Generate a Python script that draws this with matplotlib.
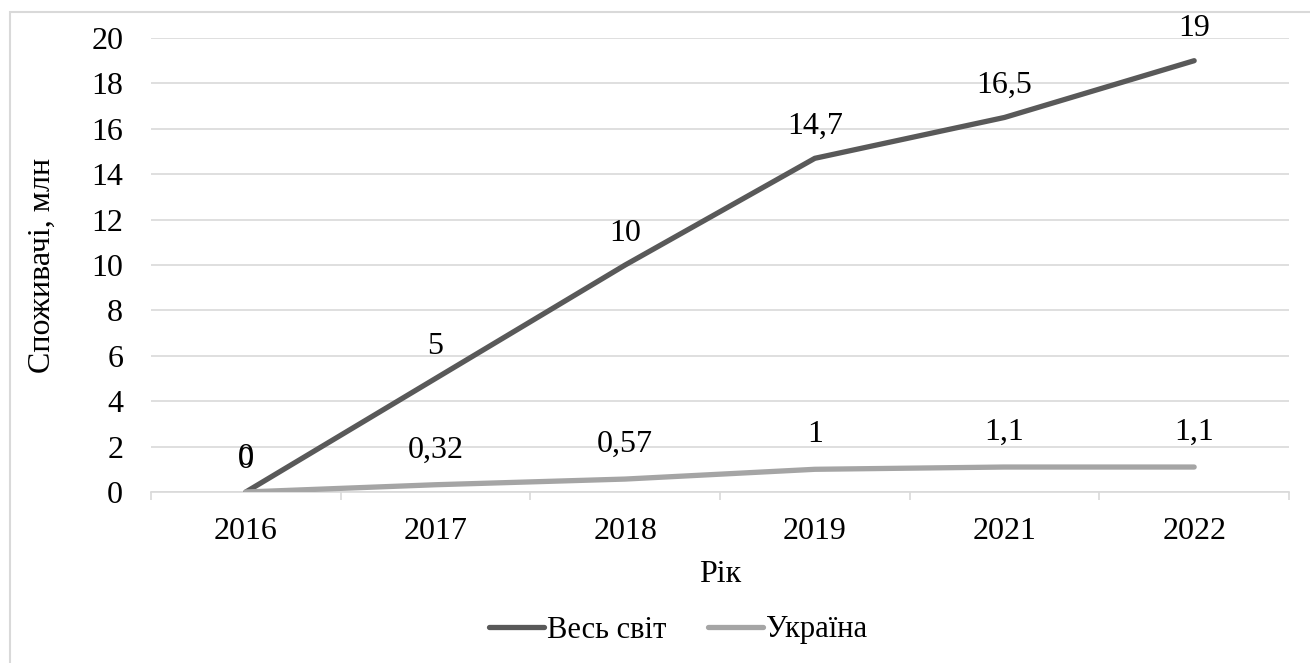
import matplotlib
matplotlib.use("Agg")
import matplotlib.pyplot as plt
from matplotlib import font_manager as fm
from matplotlib.patches import Rectangle
import numpy as np

SERIF_PATH = fm.findfont(fm.FontProperties(family=["Liberation Serif", "DejaVu Serif"]))
plt.rcParams["font.family"] = ["Liberation Serif", "DejaVu Serif"]


def serif(size):
    return fm.FontProperties(fname=SERIF_PATH, size=size)


years = ["2016", "2017", "2018", "2019", "2021", "2022"]
world = [0, 5, 10, 14.7, 16.5, 19]
ukraine = [0, 0.32, 0.57, 1, 1.1, 1.1]
world_labels = ["0", "5", "10", "14,7", "16,5", "19"]
ukraine_labels = ["0", "0,32", "0,57", "1", "1,1", "1,1"]

W, H = 1310, 663
fig = plt.figure(figsize=(W / 100, H / 100), dpi=100)
ax = fig.add_axes([151 / W, 1 - 492 / H, (1289 - 151) / W, (492 - 38) / H])

# outer chart border (only top/left visible in original)
fig.patches.append(Rectangle((10 / W, -0.05), 1.1, 1 - 12 / H + 0.05, transform=fig.transFigure,
                             fill=False, edgecolor="#D9D9D9", linewidth=1.5))

x = np.arange(len(years))
ax.plot(x, world, color="#595959", linewidth=3.8, solid_capstyle="round", label="Весь світ", zorder=3)
ax.plot(x, ukraine, color="#A5A5A5", linewidth=3.8, solid_capstyle="round", label="Україна", zorder=3)

for xi, v, t in zip(x, world, world_labels):
    ax.annotate(t, (xi, v), xytext=(0, 23), textcoords="offset points", ha="center", va="center",
                fontproperties=serif(23))
for xi, v, t in zip(x, ukraine, ukraine_labels):
    ax.annotate(t, (xi, v), xytext=(0, 25), textcoords="offset points", ha="center", va="center",
                fontproperties=serif(23))

ax.set_xlim(-0.5, len(years) - 0.5)
ax.set_ylim(0, 20)
ax.set_yticks(np.arange(0, 21, 2))
ax.set_xticks(x)
ax.set_xticklabels(years)
ax.set_yticklabels([str(v) for v in range(0, 21, 2)])
ax.set_xticks(np.arange(-0.5, len(years), 1), minor=True)
for label in ax.get_xticklabels() + ax.get_yticklabels():
    label.set_fontproperties(serif(23))

ax.grid(axis="y", color="#D9D9D9", linewidth=1.2)
ax.set_axisbelow(True)
for side in ["top", "right", "left"]:
    ax.spines[side].set_visible(False)
ax.spines["bottom"].set_color("#D9D9D9")
ax.spines["bottom"].set_linewidth(1.2)

ax.tick_params(axis="x", which="major", length=0, pad=18)
ax.tick_params(axis="x", which="minor", length=6, color="#D9D9D9", width=1.2)
ax.tick_params(axis="y", length=0, pad=20)

fig.text(42 / W, 1 - 265 / H, "Споживачі, млн", rotation=90, ha="center", va="center",
         fontproperties=serif(23))
fig.text(720 / W, 1 - 575 / H, "Рік", ha="center", va="center", fontproperties=serif(23))

fig.legend(loc="center", bbox_to_anchor=(678 / W, 1 - 630 / H), ncol=2, frameon=False,
           prop=serif(22), handlelength=1.8, handletextpad=0.1, columnspacing=1.35)

fig.savefig("out.png", dpi=100)
